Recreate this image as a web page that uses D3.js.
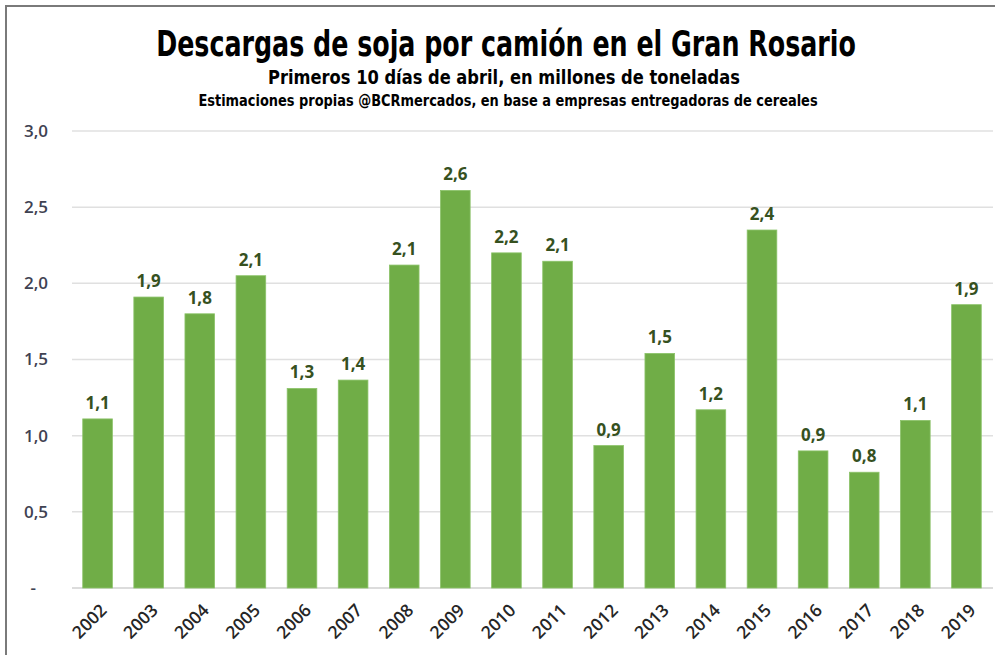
<!DOCTYPE html>
<html><head><meta charset="utf-8">
<script src="https://cdn.jsdelivr.net/npm/d3@7"></script>
<style>
html,body{margin:0;padding:0;background:#fff;}
svg{display:block;}
</style></head>
<body>
<svg id="chart" width="995" height="655"></svg>
<script>
const years = ["2002","2003","2004","2005","2006","2007","2008","2009","2010","2011","2012","2013","2014","2015","2016","2017","2018","2019"];
const values = [1.11,1.91,1.80,2.05,1.31,1.365,2.12,2.61,2.20,2.145,0.935,1.54,1.17,2.35,0.90,0.76,1.10,1.86];
const labels = ["1,1","1,9","1,8","2,1","1,3","1,4","2,1","2,6","2,2","2,1","0,9","1,5","1,2","2,4","0,9","0,8","1,1","1,9"];
const yTicks = [0,0.5,1.0,1.5,2.0,2.5,3.0];
const yTickLabels = ["-","0,5","1,0","1,5","2,0","2,5","3,0"];
const title = "Descargas de soja por camión en el Gran Rosario";
const subtitle = "Primeros 10 días de abril, en millones de toneladas";
const note = "Estimaciones propias @BCRmercados, en base a empresas entregadoras de cereales";

const svg = d3.select("#chart");
const narrow = "'Liberation Sans Narrow','DejaVu Sans Condensed','Roboto Condensed',sans-serif";

// frame
svg.append("rect").attr("x",6).attr("y",6).attr("width",1000).attr("height",700)
  .attr("fill","#fff").attr("stroke","#7a7a7a").attr("stroke-width",2);

const x = d3.scaleBand().domain(years).range([72,992]).paddingInner(0.42).paddingOuter(0.21);
const y = d3.scaleLinear().domain([0,3]).range([588,131]);

// gridlines
svg.append("g").selectAll("line").data(yTicks).join("line")
  .attr("x1",72).attr("x2",993)
  .attr("y1",d=>y(d)).attr("y2",d=>y(d))
  .attr("stroke",d=>d===0?"#d0d0d0":"#e0e0e0").attr("stroke-width",1.5);

// y axis labels
const yAxis = d3.axisLeft(y).tickValues(yTicks).tickFormat((d,i)=>yTickLabels[i]).tickSize(0).tickPadding(0);
const gy = svg.append("g").attr("transform","translate(48,0)").call(yAxis);
gy.select(".domain").remove();
gy.selectAll("text").attr("font-family","'Open Sans',sans-serif").attr("font-size",17)
  .attr("font-weight",600).attr("fill","#3f4252")
  .attr("dx",d=>d===0?-12:0);

// bars
svg.append("g").selectAll("rect").data(values).join("rect")
  .attr("x",(d,i)=>x(years[i])).attr("width",x.bandwidth())
  .attr("y",d=>y(d)).attr("height",d=>y(0)-y(d))
  .attr("fill","#70ad47").attr("stroke","#8cc36a").attr("stroke-width",0.8);

// data labels
svg.append("g").selectAll("text").data(values).join("text")
  .attr("x",(d,i)=>x(years[i])+x.bandwidth()/2).attr("y",d=>y(d)-10)
  .attr("text-anchor","middle")
  .attr("font-family","'Open Sans',sans-serif").attr("font-size",17).attr("font-weight",700)
  .attr("fill","#36511f").text((d,i)=>labels[i]);

// x axis labels
const xAxis = d3.axisBottom(x).tickSize(0).tickPadding(0);
const gx = svg.append("g").call(xAxis);
gx.select(".domain").remove();
gx.selectAll(".tick").attr("transform",d=>`translate(${x(d)+x.bandwidth()/2+6},607)`);
gx.selectAll("text").attr("font-family","'Open Sans',sans-serif").attr("font-size",17.5)
  .attr("font-weight",600).attr("fill","#262626")
  .attr("text-anchor","end").attr("x",0).attr("y",0).attr("dy","0.35em")
  .attr("transform","rotate(-45)");

// titles (horizontally condensed to match the narrow font of the original)
function fitText(str, cx, cy, size, target){
  const g = svg.append("g").attr("transform",`translate(${cx},${cy})`);
  const t = g.append("text").attr("x",0).attr("y",0).attr("text-anchor","middle")
    .attr("font-family",narrow).attr("font-weight",700).attr("font-size",size)
    .attr("fill","#000").text(str);
  const w = t.node().getComputedTextLength();
  const k = Math.min(1, target / w);
  t.attr("transform",`scale(${k},1)`);
}
fitText(title, 506, 56, 35, 700);
fitText(subtitle, 504, 84, 19, 472);
fitText(note, 508, 106, 15, 620);
</script>
</body></html>
